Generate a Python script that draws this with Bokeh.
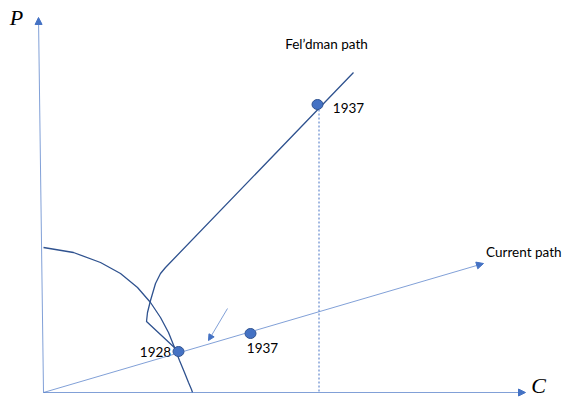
from bokeh.plotting import figure
from bokeh.models import Arrow, NormalHead
from bokeh.core.properties import value
from bokeh.embed import file_html
from bokeh.resources import INLINE

# Diagram data in (C, P) units
ppf_c = [0, 30, 57, 77, 94, 107, 117, 125, 131, 136, 141, 145, 148, 149]
ppf_p = [145, 140, 130, 119, 105, 90, 75, 60, 45, 32, 20, 10, 3, 0]

feld_c = [133, 103, 104, 107, 112, 117, 122, 310]
feld_p = [43, 71, 80, 92, 109, 119, 125, 320]

current_c = [0, 440]
current_p = [0, 129]

dot_c = [135, 207, 274]
dot_p = [41, 59, 288]
dot_years = ["1928", "1937", "1937"]

drop_c = [275.5, 275.5]
drop_p = [287, 0]

hint_c = [184, 165]
hint_p = [84, 52]

p_axis_c = [0, -5]
p_axis_p = [0, 375]
c_axis_c = [0, 482]
c_axis_p = [0, 0]

DARK = "#2F528F"
LIGHT = "#4472C4"
FONT = "Lato"
FS = "13.5px"

p = figure(width=562, height=398, x_range=(-43, 519), y_range=(-6, 392),
           output_backend="svg", toolbar_location=None, min_border=0)
p.axis.visible = False
p.grid.visible = False
p.outline_line_color = None

def arrow(xs, ys, size=7):
    p.add_layout(Arrow(x_start=xs[0], y_start=ys[0], x_end=xs[1], y_end=ys[1],
                       line_color=LIGHT, line_width=0.8, line_alpha=0.85,
                       end=NormalHead(size=size, fill_color=LIGHT, line_color=LIGHT)))

arrow(p_axis_c, p_axis_p)
arrow(c_axis_c, c_axis_p)
arrow(current_c, current_p)
arrow(hint_c, hint_p, size=6)

# dotted drop line
p.line(drop_c, drop_p, line_color=LIGHT, line_width=1.0, line_dash="2 2")

# curves
p.line(ppf_c, ppf_p, line_color=DARK, line_width=1.3)
p.line(feld_c, feld_p, line_color=DARK, line_width=1.3)

# dots
p.ellipse(dot_c, dot_p, width=11, height=10, fill_color=LIGHT, line_color=DARK, line_width=1)

# labels
lab_c = [112, 219, 305]
lab_p = [41, 45, 285]
p.text(lab_c, lab_p, text=dot_years, text_font=value(FONT), text_font_size=FS,
       text_align="center", text_baseline="middle", text_color="black")
p.text([283], [349], text=["Fel\u2019dman path"], text_font=value(FONT), text_font_size=FS,
       text_align="center", text_baseline="middle", text_color="black")
p.text([518], [141], text=["Current path"], text_font=value(FONT), text_font_size=FS,
       text_align="right", text_baseline="middle", text_color="black")
p.text([-27], [375], text=["P"], text_font=value("Liberation Serif"), text_font_style="italic",
       text_font_size="22px", text_align="center", text_baseline="middle", text_color="black")
p.text([495], [-5], text=["C"], text_font=value("Liberation Serif"), text_font_style="italic",
       text_font_size="22px", text_align="center", text_baseline="bottom", text_color="black")

open("out.html", "w").write(file_html(p, INLINE))
